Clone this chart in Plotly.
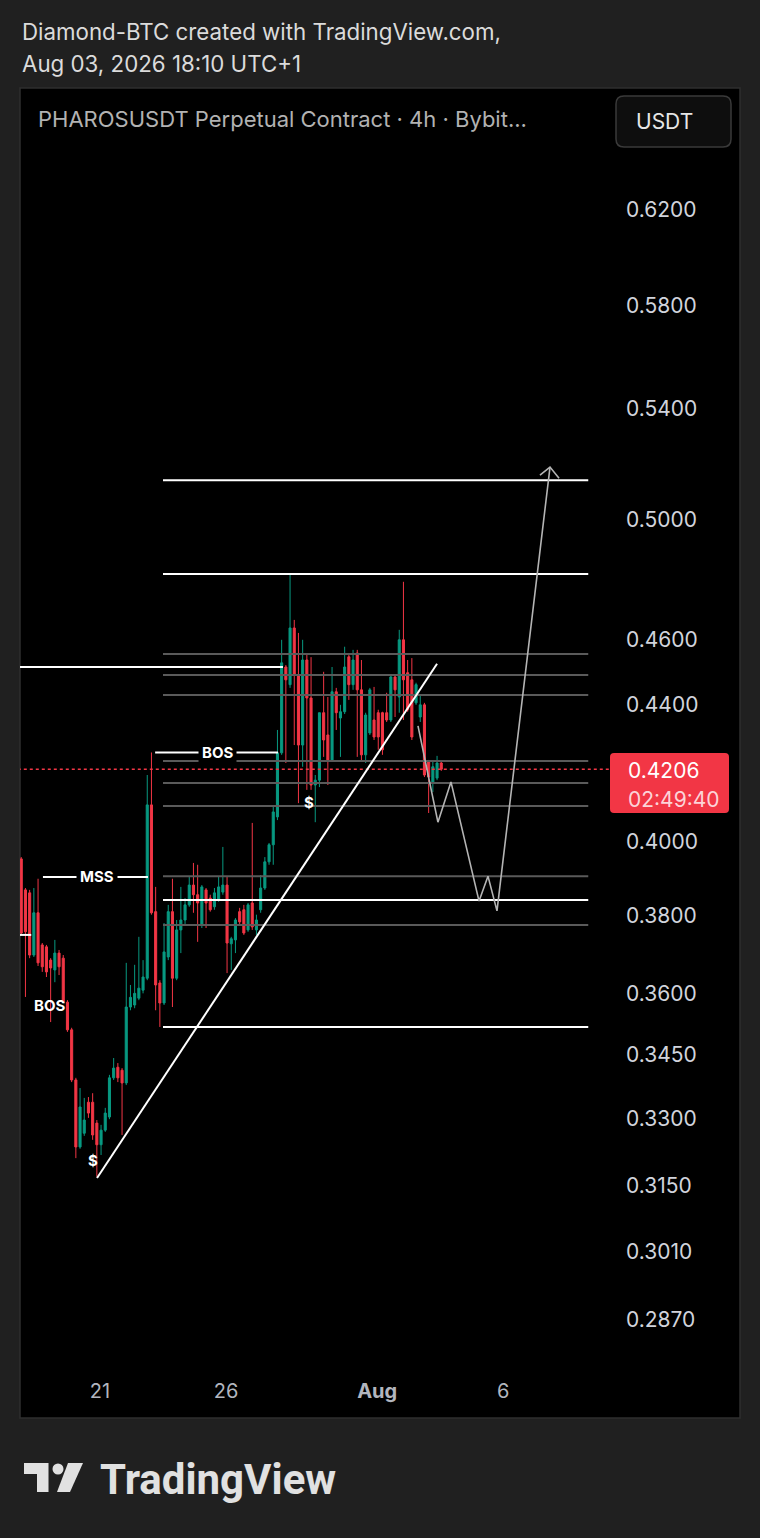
import math
import pandas as pd
import plotly.graph_objects as go

W, H = 760, 1538

# ---------------- data ----------------
candle_open = [
    0.3983, 0.3952, 0.3868, 0.3860, 0.3697, 0.3807, 0.3723, 0.3718, 0.3684, 0.3659,
    0.3702, 0.3689, 0.3578, 0.3510, 0.3390, 0.3236, 0.3267, 0.3338, 0.3338, 0.3290,
    0.3241, 0.3274, 0.3304, 0.3395, 0.3420, 0.3413, 0.3383, 0.3566, 0.3571, 0.3588,
    0.3608, 0.3638, 0.4103, 0.3810, 0.3626, 0.3576, 0.3692, 0.3810, 0.3638, 0.3762,
    0.3788, 0.3828, 0.3881, 0.3855, 0.3775, 0.3868, 0.3846, 0.3823, 0.3841, 0.3862,
    0.3881, 0.3726, 0.3736, 0.3810, 0.3815, 0.3762, 0.3833, 0.3762, 0.3815, 0.3873,
    0.3944, 0.3991, 0.4069, 0.4254, 0.4515, 0.4460, 0.4639, 0.4490, 0.4277, 0.4537,
    0.4419, 0.4160, 0.4174, 0.4374, 0.4307, 0.4233, 0.4438, 0.4358, 0.4377, 0.4547,
    0.4460, 0.4559, 0.4444, 0.4248, 0.4313, 0.4352, 0.4374, 0.4374, 0.4374, 0.4352,
    0.4484, 0.4422, 0.4601, 0.4497, 0.4475, 0.4404, 0.4361, 0.4398, 0.4227, 0.4168,
    0.4180, 0.4224,
]
candle_high = [
    0.3988, 0.3957, 0.3873, 0.3868, 0.3873, 0.3898, 0.3728, 0.3723, 0.3689, 0.3736,
    0.3710, 0.3697, 0.3583, 0.3515, 0.3395, 0.3371, 0.3348, 0.3350, 0.3359, 0.3297,
    0.3286, 0.3325, 0.3402, 0.3442, 0.3430, 0.3418, 0.3677, 0.3621, 0.3672, 0.3744,
    0.3684, 0.4189, 0.4255, 0.3876, 0.3633, 0.3780, 0.3828, 0.3898, 0.3788, 0.3876,
    0.3846, 0.3903, 0.3941, 0.3936, 0.3881, 0.3873, 0.3855, 0.3873, 0.3903, 0.3985,
    0.3903, 0.3744, 0.3793, 0.3820, 0.3828, 0.3833, 0.4052, 0.3802, 0.3908, 0.3957,
    0.3996, 0.4098, 0.4322, 0.4601, 0.4521, 0.4816, 0.4665, 0.4623, 0.4601, 0.4553,
    0.4546, 0.4189, 0.4374, 0.4500, 0.4422, 0.4515, 0.4450, 0.4398, 0.4579, 0.4553,
    0.4569, 0.4569, 0.4537, 0.4374, 0.4450, 0.4453, 0.4383, 0.4377, 0.4435, 0.4490,
    0.4490, 0.4633, 0.4790, 0.4537, 0.4543, 0.4466, 0.4428, 0.4404, 0.4233, 0.4227,
    0.4245, 0.4227,
]
candle_low = [
    0.3944, 0.3749, 0.3591, 0.3689, 0.3692, 0.3669, 0.3654, 0.3641, 0.3529, 0.3628,
    0.3646, 0.3576, 0.3505, 0.3385, 0.3211, 0.3232, 0.3261, 0.3302, 0.3252, 0.3170,
    0.3218, 0.3270, 0.3299, 0.3390, 0.3385, 0.3263, 0.3378, 0.3558, 0.3563, 0.3583,
    0.3600, 0.3633, 0.3802, 0.3558, 0.3517, 0.3571, 0.3684, 0.3566, 0.3633, 0.3702,
    0.3775, 0.3823, 0.3807, 0.3731, 0.3767, 0.3767, 0.3810, 0.3815, 0.3836, 0.3855,
    0.3651, 0.3659, 0.3702, 0.3775, 0.3749, 0.3757, 0.3762, 0.3749, 0.3807, 0.3868,
    0.3936, 0.3936, 0.4060, 0.4248, 0.4224, 0.4450, 0.4277, 0.4108, 0.4213, 0.4146,
    0.4146, 0.4054, 0.4154, 0.4242, 0.4160, 0.4227, 0.4322, 0.4242, 0.4370, 0.4413,
    0.4444, 0.4242, 0.4227, 0.4224, 0.4307, 0.4292, 0.4263, 0.4248, 0.4346, 0.4346,
    0.4361, 0.4374, 0.4352, 0.4377, 0.4292, 0.4398, 0.4346, 0.4183, 0.4080, 0.4140,
    0.4174, 0.4201,
]
candle_close = [
    0.3949, 0.3754, 0.3757, 0.3697, 0.3807, 0.3677, 0.3667, 0.3654, 0.3664, 0.3702,
    0.3667, 0.3578, 0.3510, 0.3390, 0.3236, 0.3327, 0.3297, 0.3313, 0.3263, 0.3241,
    0.3274, 0.3313, 0.3395, 0.3418, 0.3395, 0.3383, 0.3566, 0.3590, 0.3600, 0.3613,
    0.3641, 0.4103, 0.3807, 0.3621, 0.3576, 0.3705, 0.3810, 0.3638, 0.3762, 0.3788,
    0.3828, 0.3881, 0.3855, 0.3833, 0.3876, 0.3833, 0.3815, 0.3860, 0.3876, 0.3881,
    0.3728, 0.3739, 0.3788, 0.3783, 0.3754, 0.3828, 0.3770, 0.3788, 0.3873, 0.3944,
    0.3991, 0.4083, 0.4254, 0.4528, 0.4475, 0.4639, 0.4490, 0.4277, 0.4537, 0.4419,
    0.4160, 0.4174, 0.4374, 0.4292, 0.4233, 0.4438, 0.4374, 0.4377, 0.4515, 0.4460,
    0.4537, 0.4444, 0.4248, 0.4367, 0.4444, 0.4301, 0.4301, 0.4263, 0.4352, 0.4484,
    0.4444, 0.4601, 0.4475, 0.4383, 0.4301, 0.4460, 0.4398, 0.4189, 0.4183, 0.4213,
    0.4224, 0.4206,
]
candle_time = pd.date_range("2026-07-17 17:00", periods=len(candle_close), freq="4h")

last_price = 0.4206
countdown = "02:49:40"

price_ticks = [0.62, 0.58, 0.54, 0.50, 0.46, 0.44, 0.40, 0.38, 0.36, 0.345, 0.33, 0.315, 0.301, 0.287]
price_tick_text = ["0.6200", "0.5800", "0.5400", "0.5000", "0.4600", "0.4400", "0.4000",
                   "0.3800", "0.3600", "0.3450", "0.3300", "0.3150", "0.3010", "0.2870"]
date_ticks = ["2026-07-21", "2026-07-26", "2026-08-01", "2026-08-06"]
date_tick_text = ["21", "26", "<b>Aug</b>", "6"]

# horizontal levels (price, colour kind)
level_prices = [0.5140, 0.4816, 0.4556, 0.4490, 0.4428, 0.4230, 0.4166, 0.4100,
                0.3905, 0.3841, 0.3775, 0.3517]
level_kind = ["white", "white", "gray", "gray", "gray", "gray", "gray", "gray",
              "gray", "white", "gray", "white"]
level_start = "2026-07-23 12:00"
level_end = "2026-08-09 09:00"

# structure lines: (start, end, price)
struct_start = ["2026-07-17 19:00", "2026-07-23 04:30", "2026-07-18 17:40", "2026-07-17 19:00"]
struct_end = ["2026-07-28 06:15", "2026-07-28 01:30", "2026-07-22 21:40", "2026-07-18 06:30"]
struct_price = [0.4515, 0.4255, 0.3903, 0.3749]

# trend line
trend_time = ["2026-07-20 21:10", "2026-08-03 09:00"]
trend_price = [0.3167, 0.4525]

# projected path
path_time = ["2026-08-02 14:50", "2026-08-03 09:50", "2026-08-03 22:15", "2026-08-05 01:00",
             "2026-08-05 09:30", "2026-08-05 18:05", "2026-08-07 20:35"]
path_price = [0.4334, 0.4054, 0.4169, 0.3838, 0.3905, 0.3812, 0.5187]
arrow_time = ["2026-08-07 11:00", "2026-08-07 20:35", "2026-08-08 05:10"]
arrow_price = [0.5158, 0.5187, 0.5147]

# text labels
label_text = ["BOS", "MSS", "BOS", "$", "$"]
label_time = ["2026-07-25 16:20", "2026-07-20 21:10", "2026-07-19 00:20", "2026-07-20 17:20", "2026-07-29 07:00"]
label_price = [0.4255, 0.3903, 0.3571, 0.3205, 0.4111]
label_bg = [True, True, False, False, False]

# ---------------- layout helpers ----------------
def px(x):
    return x / W


def py(y):
    return 1 - y / H


def rrect(x0, y0, x1, y1, r):
    pts = (f"M {px(x0 + r)},{py(y0)} L {px(x1 - r)},{py(y0)} Q {px(x1)},{py(y0)} {px(x1)},{py(y0 + r)} "
           f"L {px(x1)},{py(y1 - r)} Q {px(x1)},{py(y1)} {px(x1 - r)},{py(y1)} "
           f"L {px(x0 + r)},{py(y1)} Q {px(x0)},{py(y1)} {px(x0)},{py(y1 - r)} "
           f"L {px(x0)},{py(y0 + r)} Q {px(x0)},{py(y0)} {px(x0 + r)},{py(y0)} Z")
    return pts


GREEN = "#089981"
RED = "#f23645"
FONT = "Inter"

fig = go.Figure()

# level lines
for p, k in zip(level_prices, level_kind):
    fig.add_trace(go.Scatter(
        x=[level_start, level_end], y=[p, p], mode="lines",
        line=dict(color="#ffffff" if k == "white" else "#5a5a5a", width=2),
        hoverinfo="skip", showlegend=False))

for s, e, p in zip(struct_start, struct_end, struct_price):
    fig.add_trace(go.Scatter(x=[s, e], y=[p, p], mode="lines",
                             line=dict(color="#ffffff", width=2),
                             hoverinfo="skip", showlegend=False))

# current price dotted line
fig.add_trace(go.Scatter(x=["2026-07-17 12:00", "2026-08-11 00:00"], y=[last_price, last_price],
                         mode="lines", line=dict(color=RED, width=1.5, dash="dot"),
                         hoverinfo="skip", showlegend=False))

# candles
fig.add_trace(go.Candlestick(
    x=candle_time, open=candle_open, high=candle_high, low=candle_low, close=candle_close,
    increasing=dict(line=dict(color=GREEN, width=1), fillcolor=GREEN),
    decreasing=dict(line=dict(color=RED, width=1), fillcolor=RED),
    whiskerwidth=0, showlegend=False, hoverinfo="skip"))

# trend line
fig.add_trace(go.Scatter(x=trend_time, y=trend_price, mode="lines",
                         line=dict(color="#ffffff", width=2), hoverinfo="skip", showlegend=False))
# projected path
fig.add_trace(go.Scatter(x=path_time, y=path_price, mode="lines",
                         line=dict(color="#b4b4b4", width=1.6), hoverinfo="skip", showlegend=False))
fig.add_trace(go.Scatter(x=arrow_time, y=arrow_price, mode="lines",
                         line=dict(color="#b4b4b4", width=1.6), hoverinfo="skip", showlegend=False))

annotations = []
for t, x, p, bg in zip(label_text, label_time, label_price, label_bg):
    annotations.append(dict(
        x=x, y=math.log10(p), xref="x", yref="y", text=f"<b>{t}</b>", showarrow=False,
        font=dict(family=FONT, size=15, color="#ffffff"),
        bgcolor="#000000" if bg else "rgba(0,0,0,0)", borderpad=3,
        xanchor="center", yanchor="middle"))

# header texts
annotations += [
    dict(x=px(20), y=py(31), xref="paper", yref="paper", text="Diamond-BTC created with TradingView.com,",
         showarrow=False, xanchor="left", yanchor="middle", font=dict(family=FONT, size=22.3, color="#dbdbdb")),
    dict(x=px(20), y=py(64), xref="paper", yref="paper", text="Aug 03, 2026 18:10 UTC+1",
         showarrow=False, xanchor="left", yanchor="middle", font=dict(family=FONT, size=22.3, color="#dbdbdb")),
    dict(x=px(36), y=py(119), xref="paper", yref="paper",
         text="PHAROSUSDT Perpetual Contract · 4h · Bybit...",
         showarrow=False, xanchor="left", yanchor="middle", font=dict(family=FONT, size=22, color="#b2b2b2")),
    dict(x=px(634), y=py(121), xref="paper", yref="paper", text="USDT",
         showarrow=False, xanchor="left", yanchor="middle", font=dict(family=FONT, size=21, color="#e6e6e6")),
    dict(x=px(626), y=py(770), xref="paper", yref="paper", text=f"{last_price:.4f}",
         showarrow=False, xanchor="left", yanchor="middle", font=dict(family=FONT, size=21, color="#ffffff")),
    dict(x=px(626), y=py(799), xref="paper", yref="paper", text=countdown,
         showarrow=False, xanchor="left", yanchor="middle", font=dict(family=FONT, size=21, color="#fcd3d8")),
    dict(x=px(98), y=py(1479), xref="paper", yref="paper", text="<b>TradingView</b>",
         showarrow=False, xanchor="left", yanchor="middle", font=dict(family="Roboto", size=42, color="#e1e1e1")),
]

shapes = [
    # chart panel
    dict(type="rect", xref="paper", yref="paper", x0=px(20), x1=px(740), y0=py(1418), y1=py(88),
         fillcolor="#000000", line=dict(color="#2e2e2e", width=1.5), layer="below"),
    # USDT button
    dict(type="path", xref="paper", yref="paper", path=rrect(616, 96, 731, 147, 8),
         fillcolor="#0e0e0e", line=dict(color="#3a3a3a", width=1.5), layer="above"),
    # price badge
    dict(type="path", xref="paper", yref="paper", path=rrect(610, 753, 729, 813, 4),
         fillcolor=RED, line=dict(width=0), layer="above"),
    # TradingView logo
    dict(type="path", xref="paper", yref="paper",
         path=f"M {px(24)},{py(1463)} L {px(48.5)},{py(1463)} L {px(48.5)},{py(1492)} L {px(37)},{py(1492)} "
              f"L {px(37)},{py(1474)} L {px(24)},{py(1474)} Z",
         fillcolor="#e1e1e1", line=dict(width=0), layer="above"),
    dict(type="circle", xref="paper", yref="paper", x0=px(52.5), x1=px(63.5), y0=py(1474.5), y1=py(1463.5),
         fillcolor="#e1e1e1", line=dict(width=0), layer="above"),
    dict(type="path", xref="paper", yref="paper",
         path=f"M {px(68)},{py(1463)} L {px(83)},{py(1463)} L {px(70)},{py(1492)} L {px(57)},{py(1492)} Z",
         fillcolor="#e1e1e1", line=dict(width=0), layer="above"),
]

y_top, y_bot = 88, 1365
log_620 = math.log10(0.62)
ppl = 1441 * math.log(10)  # pixels per log10 unit
y_range = [log_620 - (y_bot - 210) / ppl, log_620 + (210 - y_top) / ppl]

fig.update_layout(
    width=W, height=H, margin=dict(l=0, r=0, t=0, b=0),
    paper_bgcolor="#202020", plot_bgcolor="#000000",
    showlegend=False, annotations=annotations, shapes=shapes,
    xaxis=dict(domain=[px(20), px(610)], type="date",
               range=["2026-07-17 19:48:34", "2026-08-10 05:42:51"],
               rangeslider=dict(visible=False), showgrid=False, zeroline=False, showline=False,
               tickvals=date_ticks, ticktext=date_tick_text, ticks="",
               tickfont=dict(family=FONT, size=20, color="#b2b5be"), ticklabelstandoff=12),
    yaxis=dict(domain=[py(y_bot), py(y_top)], type="log", range=y_range, side="right",
               showgrid=False, zeroline=False, showline=False, ticks="",
               tickvals=price_ticks, ticktext=price_tick_text,
               tickfont=dict(family=FONT, size=21, color="#d1d4dc"), ticklabelstandoff=15),
)

fig.write_html(
    "out.html",
    config={"displayModeBar": False},
    post_script="document.body.style.margin='0';document.body.style.padding='0';"
                "document.body.style.background='#202020';",
)
